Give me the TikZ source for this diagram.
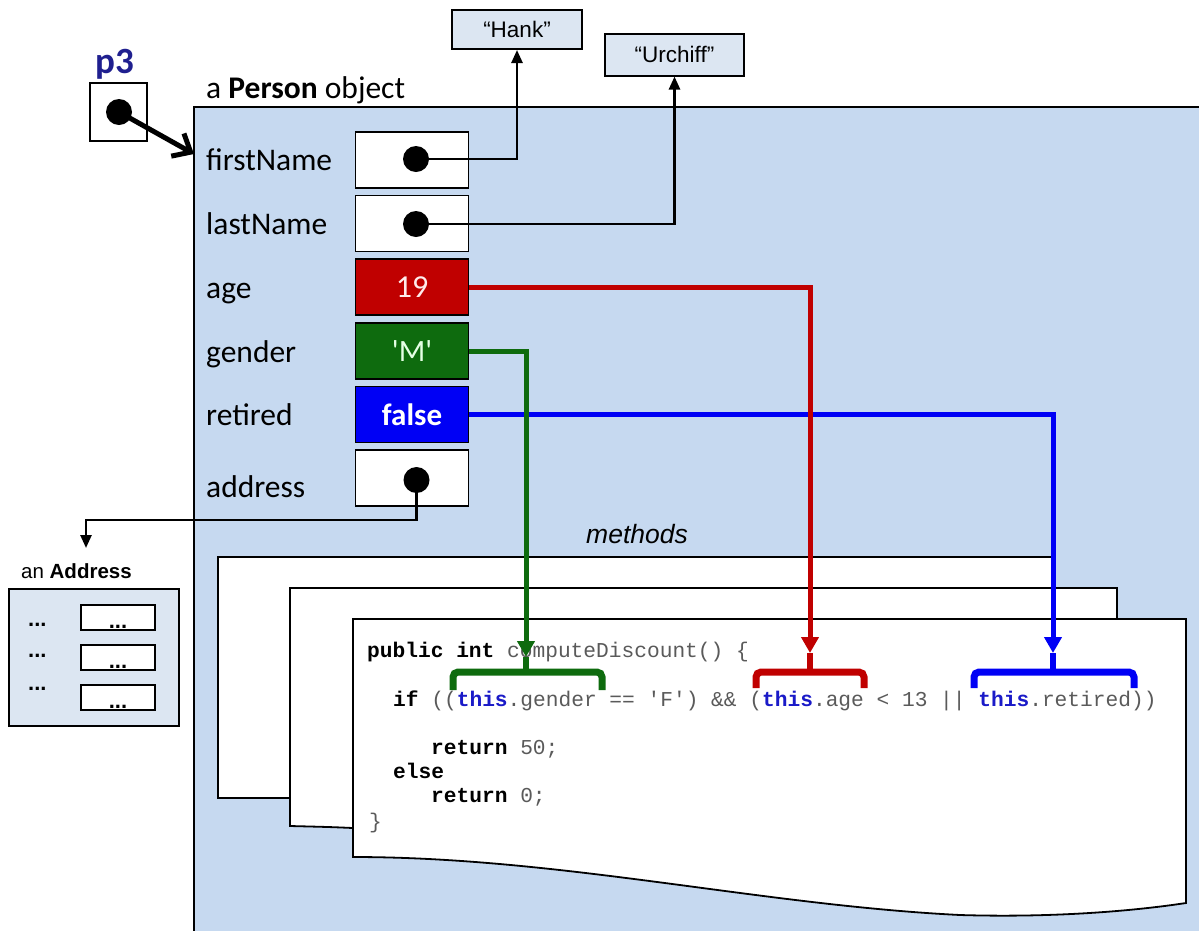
\documentclass[tikz,border=0pt]{standalone}
\usepackage{fontspec}
\setmainfont{Carlito}[Ligatures=TeXOff]
\setmonofont{Liberation Mono}
\newfontfamily\arialfont{Liberation Sans}
\usetikzlibrary{arrows.meta}
\definecolor{personbg}{HTML}{C6D9F0}
\definecolor{strbg}{HTML}{DCE6F2}
\definecolor{navy}{HTML}{1F1F8F}
\definecolor{agered}{HTML}{C00000}
\definecolor{gengreen}{HTML}{0E6B0E}
\definecolor{retblue}{HTML}{0000F5}
\definecolor{codegray}{HTML}{5A5A5A}
\definecolor{thisblue}{HTML}{1A1AC8}
\newcommand{\kw}[1]{\textbf{\color{black}#1}}
\newcommand{\thiskw}[1]{\textbf{\color{thisblue}#1}}
\begin{document}
\begin{tikzpicture}[x=1pt,y=-1pt,
  fieldbox/.style={draw=black, line width=1.8pt, fill=white, minimum width=113pt, minimum height=56pt, inner sep=0pt},
  fieldlabel/.style={anchor=base west, inner sep=0pt, font=\fontsize{31.5}{36}\selectfont},
  ptrdot/.style={circle, fill=black, minimum size=26pt, inner sep=0pt},
  strbox/.style={draw=black, line width=2pt, fill=strbg, inner sep=0pt, font=\arialfont\fontsize{22.5}{26}\selectfont},
  ptr/.style={line width=2.5pt, -{Triangle[length=13pt,width=11pt]}},
  colline/.style={line width=5pt, -{Triangle[length=16pt,width=17pt]}},
  bracket/.style={line width=7pt, rounded corners=5pt},
  stem/.style={line width=6pt},
  page/.style={draw=black, line width=1.8pt, fill=white},
  codeline/.style={anchor=base west, inner sep=0pt, text=codegray, font=\ttfamily\frenchspacing\fontsize{21.2}{25}\selectfont},
  dots/.style={inner sep=0pt, font=\arialfont\bfseries\fontsize{22}{26}\selectfont},
  smallbox/.style={draw=black, line width=2pt, fill=white, minimum width=74pt, minimum height=25pt, inner sep=0pt}
]
\useasboundingbox (0,0) rectangle (1199,930);

% Person object
\path[draw=black, line width=2.2pt, fill=personbg] (194,107) rectangle (1215,945);
\node[anchor=base west, inner sep=0pt, font=\fontsize{31.5}{36}\selectfont] (ptitle) at (206,98) {a \textbf{Person} object};

% p3 variable
\node[anchor=base west, inner sep=0pt, text=navy, font=\bfseries\fontsize{37}{42}\selectfont] (p3lab) at (95,73) {p3};
\node[draw=black, line width=1.8pt, fill=white, minimum width=57pt, minimum height=58pt, inner sep=0pt] (p3box) at (118.5,112) {};
\node[ptrdot] (pdot) at (119,112) {};
\coordinate (ptip) at (194,154);
\draw[line width=5pt, -{Straight Barb[length=15pt,width=26pt]}] (pdot.center) -- (ptip);

% field labels
\node[fieldlabel] (lfirst) at (206,170) {firstName};
\node[fieldlabel] (llast) at (206,234) {lastName};
\node[fieldlabel] (lage) at (206,298) {age};
\node[fieldlabel] (lgender) at (206,362) {gender};
\node[fieldlabel] (lretired) at (206,425) {retired};
\node[fieldlabel] (laddress) at (206,497) {address};

% field boxes
\node[fieldbox] (first) at (412,160) {};
\node[fieldbox] (last) at (412,223.5) {};
\node[fieldbox, fill=agered, text=red!8!white, font=\fontsize{32}{36}\selectfont] (age) at (412,287) {19};
\node[fieldbox, fill=gengreen, text=green!10!white, font=\fontsize{31}{35}\selectfont] (gender) at (412,351) {'M'};
\node[fieldbox, fill=retblue, text=white, font=\bfseries\fontsize{31}{35}\selectfont] (retired) at (412,414.5) {false};
\node[fieldbox] (address) at (412,478) {};

\node[ptrdot] (fdot) at (416,159) {};
\node[ptrdot] (ldot) at (416,224) {};
\node[ptrdot] (adot) at (416.5,480) {};

% strings
\node[strbox, minimum width=130pt, minimum height=39pt] (hank) at (517,29.5) {“Hank”};
\node[strbox, minimum width=139pt, minimum height=42pt] (urchiff) at (674.5,54.5) {“Urchiff”};
\draw[ptr] (fdot.center) -| (hank.south);
\draw[ptr] (ldot.center) -| (urchiff.south);

% methods label
\node[anchor=base west, inner sep=0pt, font=\arialfont\itshape\fontsize{26.5}{30}\selectfont] (mlab) at (586,543) {methods};

% pages
\path[page] (218,557) rectangle (1052,798);
\path[page] (290,588) -- (1117,588) -- (1117,850) -- (353,828) .. controls (330,827) .. (290,826) -- cycle;
\path[page] (353,619) -- (1186,619) -- (1186,903)
   .. controls (1140,910) and (1060,918) .. (960,915)
   .. controls (760,905) and (560,857) .. (353,857) -- cycle;

% code
\node[codeline] (c1) at (367,657) {\kw{public} \kw{int} computeDiscount() \{};
\node[codeline] (c2) at (393,706) {\kw{if} ((\thiskw{this}.gender == 'F') \&\& (\thiskw{this}.age < 13 || \thiskw{this}.retired))};
\node[codeline] (c3) at (431,754) {\kw{return} 50;};
\node[codeline] (c4) at (393,778) {\kw{else}};
\node[codeline] (c5) at (431,802) {\kw{return} 0;};
\node[codeline] (c6) at (369,828) {\}};

% address object
\node[anchor=base west, inner sep=0pt, font=\arialfont\fontsize{20.5}{24}\selectfont] (alab) at (21,578) {an \textbf{Address}};
\node[draw=black, line width=2pt, fill=strbg, minimum width=170pt, minimum height=137pt, inner sep=0pt] (abox) at (94,657.5) {};
\node[dots, anchor=base west] (d1) at (28,626) {...};
\node[dots, anchor=base west] (d2) at (28,657) {...};
\node[dots, anchor=base west] (d3) at (28,690) {...};
\node[smallbox] (s1) at (118,617.5) {};
\node[smallbox] (s2) at (118,657.5) {};
\node[smallbox] (s3) at (118,697.5) {};
\node[dots, anchor=base] (sd1) at (118,628) {...};
\node[dots, anchor=base] (sd2) at (118,668) {...};
\node[dots, anchor=base] (sd3) at (118,708) {...};

\coordinate (aturn) at (86,520);
\coordinate (atip) at (86,548);
\draw[ptr] (adot.center) |- (aturn) -- (atip);

% brackets
\coordinate (gtip) at (526,657);
\coordinate (rtip) at (810,653);
\coordinate (btip) at (1053,653);
\draw[bracket, gengreen] (453,690) -- (453,672) -- (602,672) -- (602,690);
\draw[stem, gengreen] (gtip) -- (526,672);
\draw[bracket, agered] (756,688) -- (756,672) -- (864,672) -- (864,688);
\draw[stem, agered] (rtip) -- (810,672);
\draw[bracket, retblue] (974,688) -- (974,672) -- (1134,672) -- (1134,688);
\draw[stem, retblue] (btip) -- (1053,672);

% coloured connectors
\draw[colline, retblue] (retired.east) -| (btip);
\draw[colline, agered] (age.east) -| (rtip);
\draw[colline, gengreen] (gender.east) -| (gtip);
\end{tikzpicture}
\end{document}
